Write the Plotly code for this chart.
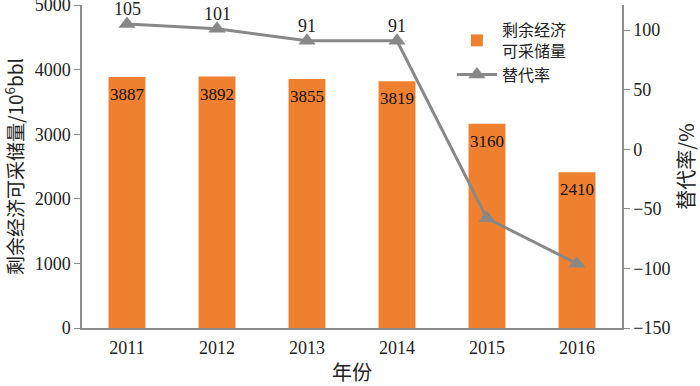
import plotly.graph_objects as go

years = ["2011", "2012", "2013", "2014", "2015", "2016"]
reserves = [3887, 3892, 3855, 3819, 3160, 2410]
replacement = [105, 101, 91, 91, -58, -96]
rate_labels = ["105", "101", "91", "91", "", ""]

serif = "Liberation Serif, Times New Roman, Noto Sans CJK SC"
cjk = "Noto Sans CJK SC"
txt = "#222222"
axis_col = "#8c8c8c"

fig = go.Figure()
fig.add_trace(go.Bar(
    x=years, y=reserves, name="剩余经济<br>可采储量",
    marker=dict(color="#EE8030", line=dict(width=0)),
    width=0.41,
    yaxis="y",
))
fig.add_trace(go.Scatter(
    x=years, y=replacement, name="替代率",
    mode="lines+markers",
    line=dict(color="#888888", width=3),
    marker=dict(symbol="triangle-up", size=15, color="#888888"),
    cliponaxis=False,
    yaxis="y2",
))

for i, v in enumerate(reserves):
    fig.add_annotation(x=i, y=v, xref="x", yref="y", text=str(v), showarrow=False,
                       yanchor="top", yshift=-6,
                       font=dict(family=serif, size=17, color="#111111"))

for i, (y, t) in enumerate(zip(replacement, rate_labels)):
    if t:
        fig.add_annotation(x=i, y=y, xref="x", yref="y2", text=t, showarrow=False,
                           yanchor="middle", yshift=15,
                           font=dict(family=serif, size=18, color=txt))

fig.update_layout(
    width=700, height=386,
    margin=dict(l=82, r=78, t=5, b=58, autoexpand=False),
    plot_bgcolor="white", paper_bgcolor="white",
    font=dict(family=serif, size=18, color=txt),
    showlegend=True,
    legend=dict(
        x=0.685, y=0.975, xanchor="left", yanchor="top",
        font=dict(family=cjk, size=16, color=txt),
        bgcolor="rgba(0,0,0,0)", tracegroupgap=8, itemwidth=40,
    ),
    xaxis=dict(
        type="category", range=[-0.5, 5.5], automargin=False,
        showline=True, linecolor=axis_col, linewidth=1.5,
        ticks="", showgrid=False, ticklabelstandoff=3,
        tickfont=dict(family=serif, size=18, color=txt),
        title=dict(text="年份", font=dict(family=cjk, size=20, color=txt), standoff=10),
    ),
    yaxis=dict(
        range=[0, 5000], tickvals=[0, 1000, 2000, 3000, 4000, 5000], automargin=False,
        showline=True, linecolor=axis_col, linewidth=1.5,
        ticks="outside", ticklen=6, tickcolor=axis_col, ticklabeloverflow="allow",
        showgrid=False, zeroline=False,
        tickfont=dict(family=serif, size=18, color=txt),
        title=dict(text="剩余经济可采储量/10<sup>6</sup>bbl",
                   font=dict(family=cjk, size=19, color=txt), standoff=9),
    ),
    yaxis2=dict(
        overlaying="y", side="right", anchor="x", automargin=False,
        range=[-150, 121], tickvals=[-150, -100, -50, 0, 50, 100],
        showline=True, linecolor=axis_col, linewidth=1.5,
        ticks="outside", ticklen=6, tickcolor=axis_col, ticklabeloverflow="allow",
        showgrid=False, zeroline=False,
        tickfont=dict(family=serif, size=18, color=txt),
        title=dict(text="替代率/%", font=dict(family=cjk, size=20, color=txt), standoff=26),
    ),
    bargap=0.5,
)

fig.write_html("out.html", config={"displayModeBar": False},
               post_script="document.body.style.margin='0';")
